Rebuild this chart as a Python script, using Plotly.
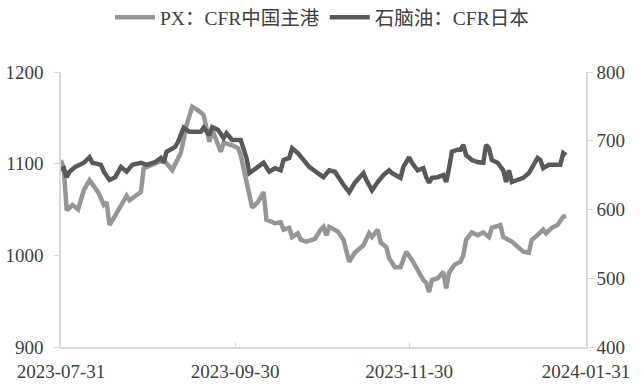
import plotly.graph_objects as go

px_dates = ["2023-07-31","2023-08-01","2023-08-02","2023-08-04","2023-08-06","2023-08-08","2023-08-10","2023-08-13",
            "2023-08-15","2023-08-16","2023-08-17","2023-08-19","2023-08-21","2023-08-23","2023-08-24","2023-08-28",
            "2023-08-29","2023-09-01","2023-09-04","2023-09-05","2023-09-08","2023-09-11","2023-09-13","2023-09-15",
            "2023-09-18","2023-09-19","2023-09-21","2023-09-22","2023-09-25","2023-09-26","2023-09-29","2023-10-01",
            "2023-10-02","2023-10-04","2023-10-05","2023-10-06","2023-10-08","2023-10-10","2023-10-11","2023-10-14",
            "2023-10-16","2023-10-17","2023-10-19","2023-10-20","2023-10-22","2023-10-23","2023-10-25","2023-10-28",
            "2023-10-30","2023-10-31","2023-11-01","2023-11-02","2023-11-05","2023-11-07","2023-11-09","2023-11-11",
            "2023-11-14","2023-11-16","2023-11-17","2023-11-19","2023-11-20","2023-11-22","2023-11-23","2023-11-25",
            "2023-11-27","2023-11-29","2023-12-01","2023-12-03","2023-12-05","2023-12-06","2023-12-07","2023-12-08",
            "2023-12-10","2023-12-12","2023-12-13","2023-12-14","2023-12-16","2023-12-18","2023-12-19","2023-12-20",
            "2023-12-22","2023-12-24","2023-12-26","2023-12-28","2023-12-29","2024-01-01","2024-01-02","2024-01-05",
            "2024-01-07","2024-01-09","2024-01-11","2024-01-12","2024-01-14","2024-01-16","2024-01-17","2024-01-19",
            "2024-01-21","2024-01-23","2024-01-24"]
px_values = [1104,1093,1049,1055,1050,1071,1082,1069,
             1055,1058,1033,1044,1055,1065,1060,1069,
             1095,1099,1102,1104,1093,1112,1142,1162,
             1156,1153,1124,1137,1113,1123,1120,1117,
             1109,1080,1063,1052,1058,1069,1039,1035,
             1036,1028,1030,1020,1024,1017,1015,1018,
             1028,1031,1022,1031,1026,1017,993,1003,
             1011,1024,1020,1028,1014,1009,997,987,
             987,1004,995,984,973,970,960,973,
             975,982,964,981,990,993,1000,1017,
             1025,1022,1025,1020,1030,1033,1020,1015,
             1009,1004,1003,1017,1022,1028,1024,1030,
             1033,1042,1043]

nap_dates = ["2023-07-31","2023-08-01","2023-08-02","2023-08-03","2023-08-05","2023-08-08","2023-08-10","2023-08-11",
             "2023-08-14","2023-08-15","2023-08-17","2023-08-19","2023-08-21","2023-08-23","2023-08-25","2023-08-28",
             "2023-08-30","2023-09-02","2023-09-04","2023-09-05","2023-09-06","2023-09-09","2023-09-10","2023-09-12",
             "2023-09-14","2023-09-16","2023-09-18","2023-09-19","2023-09-21","2023-09-22","2023-09-24","2023-09-26",
             "2023-09-27","2023-09-29","2023-10-02","2023-10-04","2023-10-05","2023-10-08","2023-10-10","2023-10-12",
             "2023-10-14","2023-10-16","2023-10-17","2023-10-19","2023-10-20","2023-10-22","2023-10-25","2023-10-26",
             "2023-10-29","2023-10-31","2023-11-02","2023-11-04","2023-11-07","2023-11-09","2023-11-11","2023-11-14",
             "2023-11-15","2023-11-17","2023-11-19","2023-11-21","2023-11-23","2023-11-24","2023-11-27","2023-11-28",
             "2023-11-30","2023-12-01","2023-12-03","2023-12-05","2023-12-06","2023-12-07","2023-12-08","2023-12-10",
             "2023-12-12","2023-12-13","2023-12-14","2023-12-15","2023-12-17","2023-12-18","2023-12-19","2023-12-20",
             "2023-12-22","2023-12-24","2023-12-26","2023-12-27","2023-12-28","2023-12-29","2023-12-31","2024-01-02",
             "2024-01-03","2024-01-04","2024-01-05","2024-01-07","2024-01-09","2024-01-11","2024-01-12","2024-01-14",
             "2024-01-15","2024-01-16","2024-01-18","2024-01-20","2024-01-22","2024-01-23","2024-01-24"]
nap_values = [657,660,647,655,662,668,676,668,
              665,655,643,647,662,655,665,668,
              665,669,675,668,684,691,698,719,
              713,713,713,719,708,720,716,704,
              711,701,701,675,653,662,668,655,
              660,657,672,675,689,682,665,662,
              653,647,657,655,636,625,639,653,
              643,628,640,650,657,653,646,662,
              676,668,657,660,647,639,646,647,
              650,640,660,684,687,687,694,679,
              672,669,668,694,689,672,668,657,
              640,657,640,643,646,653,660,675,
              672,660,665,665,665,682,679]

x_tick_vals = ["2023-07-31","2023-09-30","2023-11-30","2024-01-31"]
x_tick_text = ["2023-07-31","2023-09-30","2023-11-30","2024-01-31"]

font_family = "Liberation Serif, Noto Sans CJK SC, serif"
axis_col = "#d9d9d9"
text_col = "#404040"

fig = go.Figure()
fig.add_trace(go.Scatter(x=px_dates, y=px_values, mode="lines", name="PX：CFR中国主港",
                         line=dict(color="#969696", width=4.5)))
fig.add_trace(go.Scatter(x=nap_dates, y=nap_values, mode="lines", name="石脑油：CFR日本",
                         line=dict(color="#595959", width=4.5), yaxis="y2"))

fig.update_layout(
    width=644, height=389,
    margin=dict(l=61, r=58, t=72, b=42, autoexpand=False),
    paper_bgcolor="white", plot_bgcolor="white",
    font=dict(family=font_family, size=19, color=text_col),
    showlegend=True,
    legend=dict(orientation="h", x=0.5, xanchor="center", xref="container",
                y=0.955, yanchor="middle", yref="container",
                font=dict(size=19.5, color=text_col), itemwidth=40, tracegroupgap=0),
    xaxis=dict(type="date", range=["2023-07-31", "2024-01-31"], tickvals=x_tick_vals, ticktext=x_tick_text,
               showgrid=False, showline=True, linecolor=axis_col, linewidth=1.5, automargin=False,
               ticks="inside", tickcolor=axis_col, ticklen=5, zeroline=False, tickangle=0,
               ticklabelstandoff=6),
    yaxis=dict(range=[900, 1200], dtick=100, showgrid=False, showline=True, linecolor=axis_col, linewidth=1.5,
               ticks="outside", tickcolor=axis_col, ticklen=5, zeroline=False, automargin=False,
               ticklabelstandoff=7),
    yaxis2=dict(range=[400, 800], dtick=100, overlaying="y", side="right", showgrid=False, showline=True,
                linecolor=axis_col, linewidth=1.5, ticks="outside", tickcolor=axis_col, ticklen=5,
                zeroline=False, automargin=False),
)

fig.write_html("out.html", config={"displayModeBar": False},
               post_script="document.body.style.margin='0';document.body.style.padding='0';")
